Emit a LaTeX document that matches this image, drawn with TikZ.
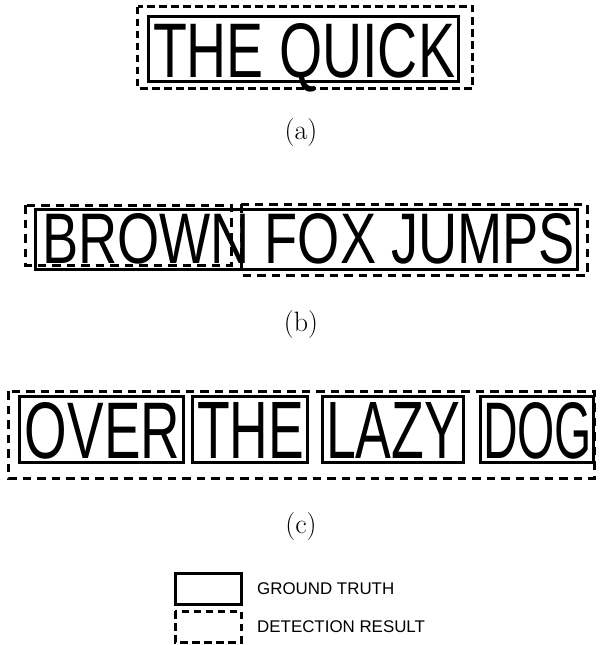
\documentclass[tikz,border=0pt]{standalone}
\usepackage{fontspec}
\usepackage{graphicx}
\newfontfamily\wordfont{Liberation Sans}
\tikzset{
  gtbox/.style={draw=black, line width=3pt},
  detbox/.style={draw=black, line width=3pt, dash pattern=on 7.5pt off 4.5pt},
  detboxlong/.style={draw=black, line width=3pt, dash pattern=on 8.5pt off 6pt},
  word/.style={anchor=base west, inner sep=0pt, outer sep=0pt},
  caption/.style={anchor=base, inner sep=0pt, font=\fontsize{28}{30}\selectfont},
  legendtext/.style={anchor=west, inner sep=0pt, font=\wordfont\fontsize{16.9}{18}\selectfont}
}
\newcommand{\wordbox}[3]{\resizebox{#1pt}{#2pt}{\wordfont #3}}
\begin{document}
\begin{tikzpicture}[x=1pt,y=-1pt]
\useasboundingbox (0,0) rectangle (601,645);
% (a)
\node[word] (qa) at (153,77) {\wordbox{302}{54}{THE QUICK}};
\draw[gtbox] (148.5,16.5) rectangle (458.5,81.5);
\draw[detbox] (137.5,6.5) rectangle (472.5,88);
\node[caption] (ca) at (301,139) {(a)};
% (b)
\node[word] (qb) at (42,263) {\wordbox{533}{50}{BROWN FOX JUMPS}};
\draw[gtbox] (35,209) rectangle (577,269);
\draw[detboxlong] (25,205) rectangle (231,265);
\draw[detboxlong] (241,204) rectangle (587,275);
\node[caption] (cb) at (301,331) {(b)};
% (c)
\node[word] (w1) at (25,458) {\wordbox{155}{56}{OVER}};
\node[word] (w2) at (197,458) {\wordbox{107}{56}{THE}};
\node[word] (w3) at (326,458) {\wordbox{134}{56}{LAZY}};
\node[word] (w4) at (483,458) {\wordbox{109}{56}{DOG}};
\draw[gtbox] (19,396) rectangle (183,462);
\draw[gtbox] (192,396) rectangle (307,462);
\draw[gtbox] (322,396) rectangle (463,462);
\draw[gtbox] (480,396) rectangle (593,462);
\draw[detboxlong] (8,391) rectangle (594,478);
\node[caption] (cc) at (301,533) {(c)};
% legend
\draw[gtbox] (175,573.5) rectangle (241,604.5);
\draw[detbox] (175,611) rectangle (241,642);
\node[legendtext] (lg) at (257,589) {GROUND TRUTH};
\node[legendtext] (ld) at (257,627) {DETECTION RESULT};
\end{tikzpicture}
\end{document}
